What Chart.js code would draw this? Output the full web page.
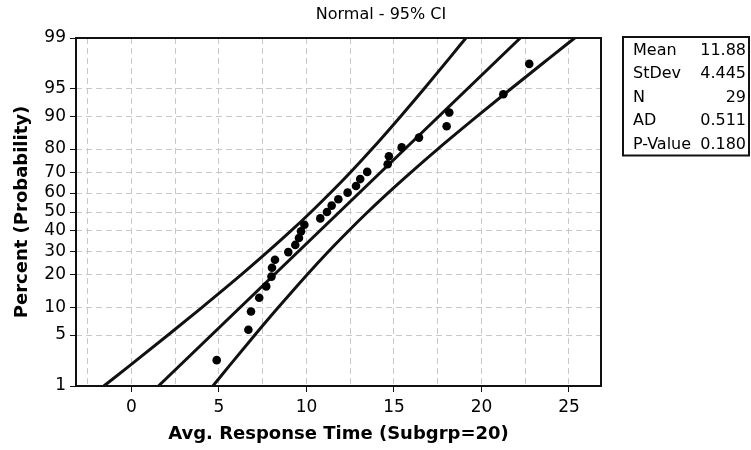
<!DOCTYPE html>
<html>
<head>
<meta charset="utf-8">
<title>Normal probability plot</title>
<script src="https://cdn.jsdelivr.net/npm/chart.js@4.4.1/dist/chart.umd.min.js"></script>
<style>
  html, body { margin: 0; padding: 0; background: #fff; }
  #wrap { width: 751px; height: 450px; }
</style>
</head>
<body>
<div id="wrap"><canvas id="chart" width="751" height="450"></canvas></div>
<script>
// probability axis ticks (percent) and x axis grid steps
const PCT_TICKS = [1, 5, 10, 20, 30, 40, 50, 60, 70, 80, 90, 95, 99];
const X_GRID = [-2.5, 0, 2.5, 5, 7.5, 10, 12.5, 15, 17.5, 20, 22.5, 25];

// observations: avg response time and plotted percent
const POINT_X = [4.87, 6.68, 6.83, 7.30, 7.70, 8.00, 8.03, 8.20, 8.96, 9.36, 9.57, 9.69, 9.88, 10.79, 11.17,
                 11.44, 11.82, 12.35, 12.83, 13.07, 13.47, 14.64, 14.71, 15.44, 16.43, 18.01, 18.16, 21.25, 22.73];
const POINT_PCT = [2.38, 5.78, 9.18, 12.59, 15.99, 19.39, 22.79, 26.19, 29.59, 32.99, 36.39, 39.80, 43.20, 46.60, 50.00,
                   53.40, 56.80, 60.20, 63.61, 67.01, 70.41, 73.81, 77.21, 80.61, 84.01, 87.41, 90.82, 94.22, 97.62];

// fitted line and 95% confidence band
const FIT_PCT = [1, 99];
const FIT_X = [1.54, 22.22];
const CI_PCT = [1, 2, 5, 10, 20, 30, 40, 50, 60, 70, 80, 90, 95, 98, 99];
const CI_LOW = [-1.58, -0.10, 2.09, 4.00, 6.26, 7.82, 9.11, 10.26, 11.36, 12.49, 13.74, 15.39, 16.71, 18.16, 19.11];
const CI_HIGH = [4.65, 5.60, 7.05, 8.37, 10.02, 11.27, 12.40, 13.50, 14.65, 15.94, 17.50, 19.76, 21.67, 23.86, 25.33];

// summary table
const STAT_NAMES = ['Mean', 'StDev', 'N', 'AD', 'P-Value'];
const STAT_VALUES = ['11.88', '4.445', '29', '0.511', '0.180'];

const TITLE = 'Normal - 95% CI';
const FONT = 'DejaVu Sans';

// inverse standard normal cdf (Acklam)
function probit(p) {
  const a = [-39.69683028665376, 220.9460984245205, -275.9285104469687, 138.3577518672690, -30.66479806614716, 2.506628277459239];
  const b = [-54.47609879822406, 161.5858368580409, -155.6989798598866, 66.80131188771972, -13.28068155288572];
  const c = [-0.007784894002430293, -0.3223964580411365, -2.400758277161838, -2.549732539343734, 4.374664141464968, 2.938163982698783];
  const d = [0.007784695709041462, 0.3224671290700398, 2.445134137142996, 3.754408661907416];
  const lo = 0.02425;
  if (p < lo) {
    const q = Math.sqrt(-2 * Math.log(p));
    return (((((c[0]*q + c[1])*q + c[2])*q + c[3])*q + c[4])*q + c[5]) / ((((d[0]*q + d[1])*q + d[2])*q + d[3])*q + 1);
  }
  if (p > 1 - lo) {
    const q = Math.sqrt(-2 * Math.log(1 - p));
    return -(((((c[0]*q + c[1])*q + c[2])*q + c[3])*q + c[4])*q + c[5]) / ((((d[0]*q + d[1])*q + d[2])*q + d[3])*q + 1);
  }
  const q = p - 0.5, r = q * q;
  return (((((a[0]*r + a[1])*r + a[2])*r + a[3])*r + a[4])*r + a[5]) * q /
         (((((b[0]*r + b[1])*r + b[2])*r + b[3])*r + b[4])*r + 1);
}

function normCdf(z) {
  // Abramowitz-Stegun erf approximation
  const t = 1 / (1 + 0.3275911 * Math.abs(z) / Math.SQRT2);
  const y = 1 - (((((1.061405429 * t - 1.453152027) * t) + 1.421413741) * t - 0.284496736) * t + 0.254829592) * t *
            Math.exp(-z * z / 2);
  return z >= 0 ? (1 + y) / 2 : (1 - y) / 2;
}

// percent axis spaced by normal quantiles
class ProbabilityScale extends Chart.LinearScale {
  static id = 'probability';
  determineDataLimits() {
    this.min = this.options.min;
    this.max = this.options.max;
  }
  buildTicks() {
    return PCT_TICKS.map(v => ({ value: v }));
  }
  getPixelForValue(value) {
    const z0 = probit(this.min / 100), z1 = probit(this.max / 100);
    return this.getPixelForDecimal((probit(value / 100) - z0) / (z1 - z0));
  }
  getValueForPixel(pixel) {
    const z0 = probit(this.min / 100), z1 = probit(this.max / 100);
    return 100 * normCdf(z0 + this.getDecimalForPixel(pixel) * (z1 - z0));
  }
}
Chart.register(ProbabilityScale);

const GRID = '#c8c8c8';

// title over the whole figure, outer frame and the summary table on the right
const framePlugin = {
  id: 'frameAndStats',
  afterDraw(chart) {
    const { ctx, chartArea: a } = chart;
    ctx.save();
    ctx.fillStyle = '#000';
    ctx.font = '16px "' + FONT + '"';
    ctx.textAlign = 'center';
    ctx.textBaseline = 'middle';
    ctx.fillText(TITLE, 381, 15);

    ctx.strokeStyle = '#111';
    ctx.lineWidth = 2;
    ctx.strokeRect(Math.round(a.left), Math.round(a.top),
                   Math.round(a.right - a.left), Math.round(a.bottom - a.top));

    const bx = Math.round(a.right) + 22, by = 37, bw = 749 - bx, rowH = 23.5;
    ctx.strokeRect(bx, by, bw, rowH * STAT_NAMES.length + 1);
    STAT_NAMES.forEach((name, i) => {
      const y = by + rowH * (i + 0.5) + 2;
      ctx.textAlign = 'left';
      ctx.fillText(name, bx + 10, y);
      ctx.textAlign = 'right';
      ctx.fillText(STAT_VALUES[i], bx + bw - 3, y);
    });
    ctx.restore();
  }
};

const lineStyle = {
  showLine: true,
  borderColor: '#111',
  borderWidth: 3,
  pointRadius: 0,
  fill: false
};

new Chart(document.getElementById('chart').getContext('2d'), {
  type: 'scatter',
  data: {
    datasets: [
      {
        label: 'Data',
        data: POINT_X.map((x, i) => ({ x: x, y: POINT_PCT[i] })),
        pointRadius: 4.3,
        pointBackgroundColor: '#000',
        pointBorderWidth: 0,
        showLine: false
      },
      Object.assign({ label: 'Fit', data: FIT_X.map((x, i) => ({ x: x, y: FIT_PCT[i] })) }, lineStyle),
      Object.assign({ label: 'Lower', data: CI_LOW.map((x, i) => ({ x: x, y: CI_PCT[i] })),
                      cubicInterpolationMode: 'monotone' }, lineStyle),
      Object.assign({ label: 'Upper', data: CI_HIGH.map((x, i) => ({ x: x, y: CI_PCT[i] })),
                      cubicInterpolationMode: 'monotone' }, lineStyle)
    ]
  },
  options: {
    responsive: false,
    animation: false,
    events: [],
    layout: { padding: { top: 38, right: 150, bottom: 0, left: 0 } },
    plugins: {
      legend: { display: false },
      tooltip: { enabled: false },
      title: { display: false }
    },
    scales: {
      x: {
        type: 'linear',
        min: -3.17,
        max: 26.83,
        afterBuildTicks: s => { s.ticks = X_GRID.map(v => ({ value: v })); },
        afterFit: s => { s.height = 64; },
        ticks: {
          autoSkip: false,
          maxRotation: 0,
          padding: 5,
          color: '#000',
          font: { family: FONT, size: 17 },
          callback: v => (v % 5 === 0 ? String(v) : '')
        },
        grid: {
          color: GRID,
          tickLength: 6,
          tickColor: c => (c.tick && c.tick.value % 5 === 0 ? '#111' : 'rgba(0,0,0,0)')
        },
        border: { display: false, dash: [6, 4] },
        title: {
          display: true,
          text: 'Avg. Response Time (Subgrp=20)',
          color: '#000',
          font: { family: FONT, size: 18, weight: 'bold' },
          padding: { top: 0, bottom: 5 }
        }
      },
      y: {
        type: 'probability',
        position: 'left',
        min: 1,
        max: 99,
        afterFit: s => { s.width = 76; },
        ticks: {
          padding: 4,
          color: '#000',
          font: { family: FONT, size: 17 },
          callback: v => String(v)
        },
        grid: {
          color: c => (c.tick && (c.tick.value === 1 || c.tick.value === 99) ? 'rgba(0,0,0,0)' : GRID),
          tickLength: 6,
          tickColor: '#111'
        },
        border: { display: false, dash: [6, 4] },
        title: {
          display: true,
          text: 'Percent (Probability)',
          color: '#000',
          font: { family: FONT, size: 18, weight: 'bold' },
          padding: { top: 12, bottom: 0 }
        }
      }
    }
  },
  plugins: [framePlugin]
});
</script>
</body>
</html>
